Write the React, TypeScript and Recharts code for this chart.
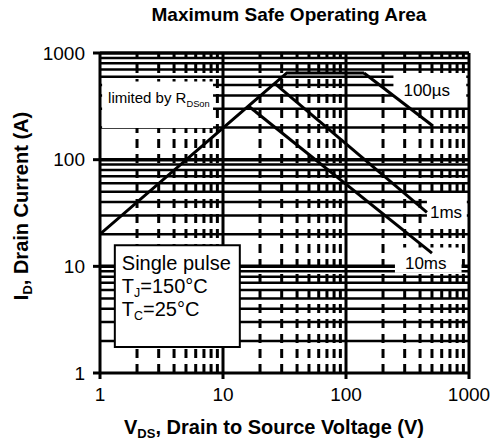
import { LineChart, Line, XAxis, YAxis, ReferenceLine, ReferenceArea } from "recharts";

const FONT = "'Liberation Sans', Arial, sans-serif";

// axis ticks and grid positions (log decades)
const majorTicks = [1, 10, 100, 1000];
const minorGrid = [2, 3, 4, 5, 6, 7, 8, 9, 20, 30, 40, 50, 60, 70, 80, 90, 200, 300, 400, 500, 600, 700, 800, 900];
const decadeGrid = [10, 100];

// SOA boundary lines (V, A)
const limitV = [1, 33, 140];
const limitI = [20, 650, 650];
const us100V = [140, 500];
const us100I = [650, 210];
const ms1V = [26, 455];
const ms1I = [525, 32];
const ms10V = [16, 500];
const ms10I = [320, 13.3];

const pts = (v: number[], i: number[]) => v.map((x, k) => ({ v: x, i: i[k] }));

// 注記ボックスのラベル
function boxText(lines: { main: string; sub?: string; rest?: string }[], size: number, dx: number, dy: number, lh: number) {
  return (props: any) => {
    const vb = props.viewBox || {};
    return (
      <text x={vb.x + dx} y={vb.y + dy} fontFamily={FONT} fontSize={size} fill="#000">
        {lines.map((l, k) => (
          <tspan key={k} x={vb.x + dx} dy={k === 0 ? 0 : lh}>
            {l.main}
            {l.sub ? (
              <tspan fontSize={size * 0.62} dy={4}>
                {l.sub}
              </tspan>
            ) : null}
            {l.sub ? <tspan dy={-4}>{l.rest ?? ""}</tspan> : null}
          </tspan>
        ))}
      </text>
    );
  };
}

export default function App() {
  return (
    <div style={{ position: "absolute", left: 0, top: 0, width: 499, height: 445, background: "#fff" }}>
      <div
        style={{
          position: "absolute",
          left: 0,
          top: 4,
          width: 578,
          textAlign: "center",
          fontFamily: FONT,
          fontWeight: "bold",
          fontSize: 19,
          color: "#000",
        }}
      >
        Maximum Safe Operating Area
      </div>
      <LineChart width={499} height={445} margin={{ top: 53, right: 30, bottom: 0, left: 0 }}>
        <XAxis
          type="number"
          dataKey="v"
          scale="log"
          domain={[1, 1000]}
          ticks={majorTicks}
          allowDataOverflow
          height={72}
          axisLine={{ stroke: "#000", strokeWidth: 3 }}
          tickLine={{ stroke: "#000", strokeWidth: 3 }}
          tickSize={6}
          tickMargin={9}
          tick={{ fontSize: 19, fill: "#000", fontFamily: FONT }}
          label={{
            content: () => (
              <text x={274} y={434} textAnchor="middle" fontFamily={FONT} fontWeight="bold" fontSize={20} fill="#000">
                V<tspan fontSize={13} dy={4}>DS</tspan>
                <tspan dy={-4}>, Drain to Source Voltage (V)</tspan>
              </text>
            ),
          }}
        />
        <YAxis
          type="number"
          dataKey="i"
          scale="log"
          domain={[1, 1000]}
          ticks={majorTicks}
          allowDataOverflow
          width={100}
          axisLine={{ stroke: "#000", strokeWidth: 3 }}
          tickLine={{ stroke: "#000", strokeWidth: 3 }}
          tickSize={7}
          tickMargin={8}
          tick={{ fontSize: 19, fill: "#000", fontFamily: FONT }}
          label={{
            content: () => (
              <text
                x={28}
                y={206}
                transform="rotate(-90 28 206)"
                textAnchor="middle"
                fontFamily={FONT}
                fontWeight="bold"
                fontSize={20}
                fill="#000"
              >
                I<tspan fontSize={13} dy={4}>D</tspan>
                <tspan dy={-4}>, Drain Current (A)</tspan>
              </text>
            ),
          }}
        />

        {minorGrid.map((g) => (
          <ReferenceLine key={"h" + g} y={g} stroke="#000" strokeWidth={2.5} />
        ))}
        {decadeGrid.map((g) => (
          <ReferenceLine key={"hd" + g} y={g} stroke="#000" strokeWidth={3.5} />
        ))}
        {minorGrid.map((g) => (
          <ReferenceLine key={"v" + g} x={g} stroke="#000" strokeWidth={3} strokeDasharray="9 6" />
        ))}
        {decadeGrid.map((g) => (
          <ReferenceLine key={"vd" + g} x={g} stroke="#000" strokeWidth={3} />
        ))}
        <ReferenceLine x={1000} stroke="#000" strokeWidth={3} />
        <ReferenceLine y={1000} stroke="#000" strokeWidth={3.5} />

        <ReferenceArea
          zIndex={500}
          x1={1.04}
          x2={8.3}
          y1={198}
          y2={540}
          fill="#fff"
          fillOpacity={1}
          stroke="none"
          label={boxText([{ main: "limited by R", sub: "DSon" }], 15, 6, 21, 0)}
        />
        <ReferenceArea
          zIndex={500}
          x1={243}
          x2={950}
          y1={330}
          y2={650}
          fill="#fff"
          fillOpacity={1}
          stroke="none"
          label={boxText([{ main: "100µs" }], 17, 10, 23, 0)}
        />
        <ReferenceArea
          zIndex={500}
          x1={455}
          x2={960}
          y1={24}
          y2={47}
          fill="#fff"
          fillOpacity={1}
          stroke="none"
          label={boxText([{ main: "1ms" }], 17, 3, 23, 0)}
        />
        <ReferenceArea
          zIndex={500}
          x1={250}
          x2={870}
          y1={8.7}
          y2={15}
          fill="#fff"
          fillOpacity={1}
          stroke="none"
          label={boxText([{ main: "10ms" }], 17, 10, 21, 0)}
        />
        <ReferenceArea
          zIndex={500}
          x1={1.32}
          x2={13.7}
          y1={1.75}
          y2={15.8}
          fill="#fff"
          fillOpacity={1}
          stroke="#000"
          strokeWidth={2}
          label={boxText(
            [
              { main: "Single pulse" },
              { main: "T", sub: "J", rest: "=150°C" },
              { main: "T", sub: "C", rest: "=25°C" },
            ],
            20,
            7,
            25,
            23
          )}
        />

        <Line zIndex={600} data={pts(limitV, limitI)} dataKey="i" stroke="#000" strokeWidth={3} dot={false} isAnimationActive={false} />
        <Line zIndex={600} data={pts(us100V, us100I)} dataKey="i" stroke="#000" strokeWidth={3} dot={false} isAnimationActive={false} />
        <Line zIndex={600} data={pts(ms1V, ms1I)} dataKey="i" stroke="#000" strokeWidth={3} dot={false} isAnimationActive={false} />
        <Line zIndex={600} data={pts(ms10V, ms10I)} dataKey="i" stroke="#000" strokeWidth={3} dot={false} isAnimationActive={false} />
      </LineChart>
    </div>
  );
}
